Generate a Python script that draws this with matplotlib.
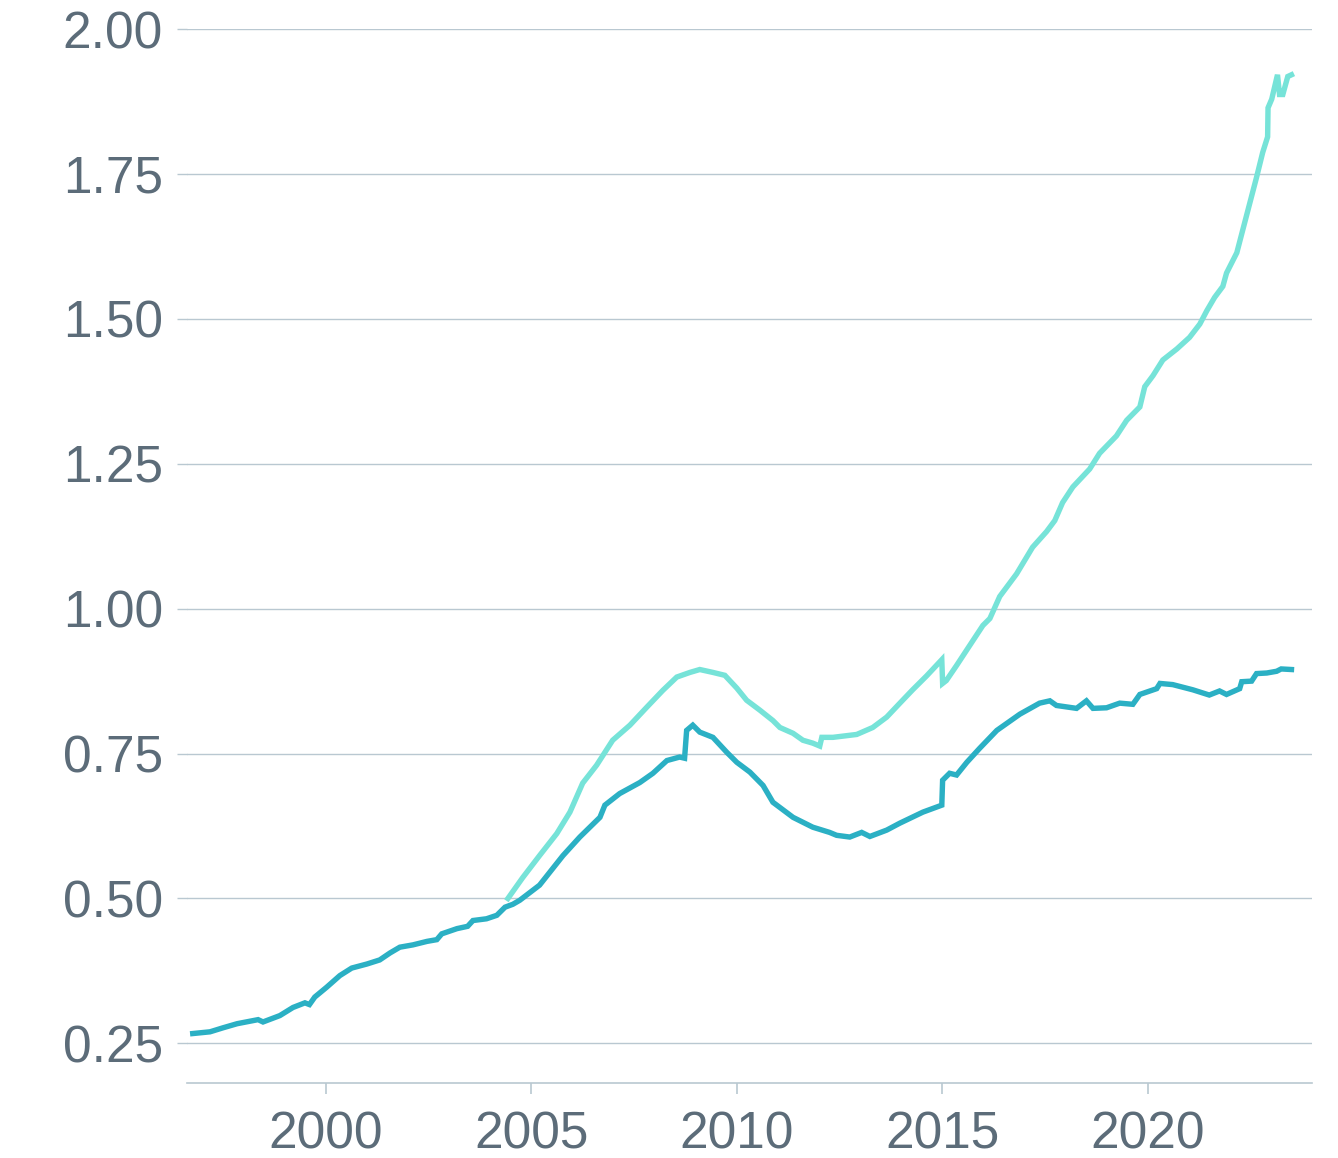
import matplotlib
matplotlib.use("Agg")
import matplotlib.pyplot as plt

# decimal years and values
dark_years = [
    1996.76, 1997.18, 1997.50, 1997.84, 1998.35, 1998.47, 1998.88, 1999.20, 1999.49, 1999.60,
    1999.73, 2000.02, 2000.34, 2000.63, 2001.00, 2001.31, 2001.56, 2001.80, 2002.12, 2002.46,
    2002.70, 2002.82, 2003.19, 2003.45, 2003.58, 2003.91, 2004.16, 2004.36, 2004.55, 2004.72,
    2005.20, 2005.77, 2006.18, 2006.67, 2006.79, 2007.15, 2007.64, 2007.96, 2008.30, 2008.61,
    2008.73, 2008.78, 2008.93, 2009.10, 2009.42, 2009.76, 2010.00, 2010.32, 2010.64, 2010.88,
    2011.37, 2011.85, 2012.26, 2012.43, 2012.75, 2013.04, 2013.24, 2013.65, 2013.97, 2014.53,
    2014.99, 2015.01, 2015.18, 2015.35, 2015.60, 2015.91, 2016.33, 2016.89, 2017.37, 2017.62,
    2017.78, 2018.27, 2018.51, 2018.67, 2019.00, 2019.32, 2019.64, 2019.81, 2020.22, 2020.30,
    2020.61, 2021.10, 2021.50, 2021.75, 2021.92, 2022.24, 2022.29, 2022.53, 2022.65, 2022.90,
    2023.14, 2023.25, 2023.50,
]
dark_values = [
    0.267, 0.270, 0.277, 0.284, 0.291, 0.287, 0.298, 0.312, 0.320, 0.317,
    0.330, 0.347, 0.367, 0.380, 0.387, 0.394, 0.406, 0.416, 0.420, 0.426,
    0.429, 0.439, 0.448, 0.452, 0.462, 0.465, 0.471, 0.485, 0.490, 0.497,
    0.523, 0.574, 0.606, 0.640, 0.661, 0.681, 0.700, 0.716, 0.738, 0.744,
    0.742, 0.790, 0.799, 0.787, 0.778, 0.752, 0.735, 0.718, 0.695, 0.666,
    0.640, 0.623, 0.614, 0.609, 0.606, 0.614, 0.607, 0.618, 0.630, 0.649,
    0.661, 0.704, 0.716, 0.713, 0.735, 0.759, 0.790, 0.818, 0.837, 0.841,
    0.833, 0.828, 0.841, 0.828, 0.829, 0.837, 0.835, 0.852, 0.862, 0.871,
    0.869, 0.860, 0.851, 0.858, 0.852, 0.862, 0.874, 0.875, 0.888, 0.889,
    0.892, 0.896, 0.895,
]

light_years = [
    2004.43, 2004.79, 2005.20, 2005.62, 2005.94, 2006.25, 2006.59, 2006.98, 2007.40, 2007.81,
    2008.20, 2008.54, 2008.86, 2009.10, 2009.42, 2009.71, 2010.00, 2010.24, 2010.56, 2010.88,
    2011.05, 2011.37, 2011.61, 2011.85, 2012.02, 2012.07, 2012.34, 2012.92, 2013.31, 2013.65,
    2013.97, 2014.28, 2014.62, 2014.99, 2015.01, 2015.10, 2015.35, 2015.60, 2015.99, 2016.16,
    2016.40, 2016.81, 2017.20, 2017.54, 2017.74, 2017.93, 2018.18, 2018.59, 2018.83, 2019.24,
    2019.49, 2019.81, 2019.93, 2020.13, 2020.37, 2020.71, 2021.02, 2021.27, 2021.44, 2021.63,
    2021.83, 2021.92, 2022.17, 2022.31, 2022.48, 2022.65, 2022.80, 2022.92, 2022.93, 2023.02,
    2023.16, 2023.21, 2023.29, 2023.41, 2023.50,
]
light_values = [
    0.500, 0.536, 0.574, 0.612, 0.649, 0.699, 0.730, 0.773, 0.799, 0.830,
    0.859, 0.882, 0.890, 0.895, 0.890, 0.885, 0.863, 0.842, 0.825, 0.807,
    0.795, 0.785, 0.773, 0.768, 0.763, 0.778, 0.778, 0.783, 0.795, 0.813,
    0.837, 0.860, 0.884, 0.912, 0.871, 0.876, 0.902, 0.929, 0.971, 0.983,
    1.021, 1.060, 1.106, 1.133, 1.152, 1.183, 1.210, 1.241, 1.268, 1.298,
    1.325, 1.348, 1.383, 1.402, 1.429, 1.448, 1.468, 1.491, 1.514, 1.537,
    1.556, 1.579, 1.614, 1.652, 1.698, 1.744, 1.787, 1.814, 1.864, 1.879,
    1.921, 1.887, 1.887, 1.918, 1.921,
]

y_ticks = [0.25, 0.50, 0.75, 1.00, 1.25, 1.50, 1.75, 2.00]
x_ticks = [2000, 2005, 2010, 2015, 2020]

grid_col = "#b9c8d1"
text_col = "#5c6c79"
dark_col = "#2bb0c4"
light_col = "#76e3d8"

plt.rcParams["font.family"] = ["Liberation Sans", "DejaVu Sans"]

fig = plt.figure(figsize=(13.38, 11.58), dpi=100)
ax = fig.add_axes([187 / 1338, 1 - 1083 / 1158, (1312 - 187) / 1338, (1083 - 29) / 1158])

ax.plot(light_years, light_values, color=light_col, lw=3.9, solid_joinstyle="miter", zorder=3)
ax.plot(dark_years, dark_values, color=dark_col, lw=3.9, solid_joinstyle="miter", zorder=4)

ax.set_xlim(1996.62, 2024.0)
ax.set_ylim(0.1817, 2.0)

ax.set_yticks(y_ticks)
ax.set_yticklabels([f"{v:.2f}" for v in y_ticks])
ax.set_xticks(x_ticks)
ax.set_xticklabels([str(x) for x in x_ticks])

ax.grid(axis="y", color=grid_col, lw=1.0)
ax.set_axisbelow(True)

for s in ["left", "right", "top"]:
    ax.spines[s].set_visible(False)
ax.spines["bottom"].set_color(grid_col)
ax.spines["bottom"].set_linewidth(1.2)

ax.tick_params(axis="y", length=7.2, width=1.0, color=grid_col, pad=10,
               labelsize=37, labelcolor=text_col)
ax.tick_params(axis="x", length=8, width=1.2, color=grid_col, pad=12,
               labelsize=37, labelcolor=text_col)

fig.savefig("out.png", dpi=100)
